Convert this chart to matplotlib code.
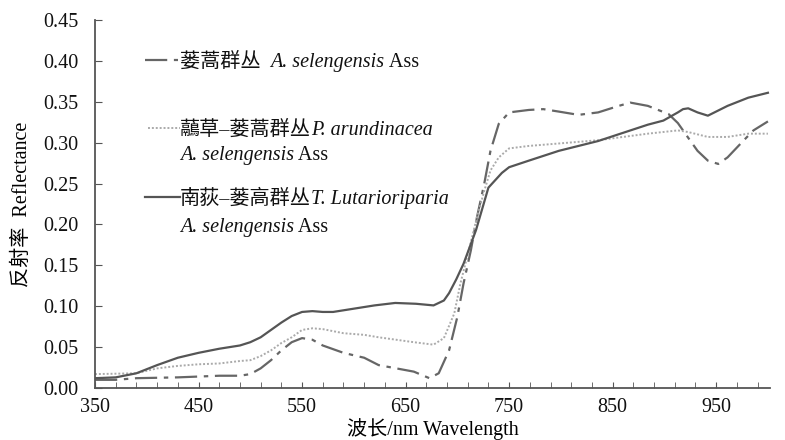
import numpy as np
import matplotlib
matplotlib.use('Agg')
import matplotlib.pyplot as plt
from matplotlib.lines import Line2D

plt.rcParams['font.family'] = ['Liberation Serif', 'Noto Sans CJK SC']
plt.rcParams['font.size'] = 14.5

# wavelength (nm) / reflectance
# 南荻-蒌蒿群丛 (solid)
wl_t = [350, 370, 390, 410, 430, 450, 470, 490, 500, 510, 520, 530, 540, 550, 560, 570,
        580, 600, 620, 640, 660, 677, 687, 692, 699, 706, 718, 730, 743, 750, 769, 798, 836,
        884, 899, 913, 918, 923, 932, 942, 961, 981, 1000]
ref_t = [0.012, 0.013, 0.018, 0.028, 0.037, 0.043, 0.048, 0.052, 0.056, 0.062, 0.071, 0.080,
         0.088, 0.093, 0.094, 0.093, 0.093, 0.097, 0.101, 0.104, 0.103, 0.101, 0.107, 0.116,
         0.133, 0.152, 0.193, 0.245, 0.263, 0.270, 0.278, 0.290, 0.302, 0.322, 0.327, 0.337,
         0.341, 0.342, 0.337, 0.333, 0.345, 0.355, 0.361]

# 虉草-蒌蒿群丛 (dotted)
wl_p = [350, 390, 410, 430, 450, 470, 490, 500, 510, 520, 530, 540, 550, 560, 570, 590,
        610, 624, 658, 677, 687, 697, 703, 711, 719, 726, 732, 740, 750, 769, 798, 836,
        884, 913, 923, 942, 961, 981, 1000]
ref_p = [0.017, 0.018, 0.024, 0.027, 0.029, 0.030, 0.033, 0.034, 0.039, 0.046, 0.055, 0.062,
         0.071, 0.073, 0.072, 0.067, 0.065, 0.062, 0.056, 0.053, 0.061, 0.091, 0.128, 0.168,
         0.209, 0.241, 0.266, 0.282, 0.293, 0.296, 0.299, 0.303, 0.311, 0.315, 0.313, 0.307,
         0.307, 0.311, 0.311]

# 蒌蒿群丛 (dash-dot)
wl_a = [350, 370, 390, 430, 470, 490, 500, 510, 520, 530, 540, 550, 560, 570, 590, 610,
        624, 658, 673, 682, 692, 700, 706, 713, 719, 726, 732, 740, 750, 769, 783, 798,
        817, 836, 856, 867, 884, 904, 913, 923, 932, 942, 952, 961, 976, 986, 1000]
ref_a = [0.010, 0.010, 0.012, 0.013, 0.015, 0.015, 0.017, 0.024, 0.034, 0.046, 0.056, 0.061,
         0.059, 0.052, 0.043, 0.037, 0.028, 0.020, 0.012, 0.018, 0.046, 0.087, 0.128, 0.168,
         0.209, 0.250, 0.290, 0.323, 0.337, 0.340, 0.341, 0.338, 0.334, 0.337, 0.345, 0.349,
         0.345, 0.335, 0.324, 0.306, 0.290, 0.278, 0.274, 0.282, 0.302, 0.315, 0.326]

fig = plt.figure(figsize=(7.85, 4.4), dpi=100)
ax = fig.add_axes([95/785, 1-388/440, 675/785, 368/440])

ax.plot(wl_a, ref_a, color='#666666', lw=1.6, dashes=(10, 3, 2, 3))
ax.plot(wl_p, ref_p, color='#aaaaaa', lw=1.4, linestyle=(0, (1, 1)))
ax.plot(wl_t, ref_t, color='#555555', lw=1.6)

ax.set_xlim(350, 1002)
ax.set_ylim(0, 0.45)
ax.set_xticks(np.arange(350, 951, 100))
ax.set_xticks(np.arange(350, 1001, 20), minor=True)
ax.set_yticks(np.arange(0, 0.451, 0.05))
ax.set_yticklabels(['%.2f' % v for v in np.arange(0, 0.451, 0.05)])
ax.tick_params(axis='both', which='both', direction='in', color='#555555', labelcolor='#111111')
ax.tick_params(axis='x', which='both', length=4, pad=7)
ax.tick_params(axis='y', length=5, pad=12)
for s in ['top', 'right']:
    ax.spines[s].set_visible(False)
for s in ['left', 'bottom']:
    ax.spines[s].set_color('#555555')
    ax.spines[s].set_linewidth(1.3)

ax.set_xlabel('波长/nm Wavelength', labelpad=1)
ax.set_ylabel('反射率  Reflectance', labelpad=8)

# legend drawn by hand (two-line labels, mixed italic)
samples = [((145, 178), 60, dict(color='#666666', lw=1.6, dashes=(10, 3, 2, 3))),
           ((148, 180), 128, dict(color='#aaaaaa', lw=1.4, linestyle=(0, (1, 1)))),
           ((145, 180), 197, dict(color='#555555', lw=1.6))]
for (x0, x1), y, st in samples:
    fig.add_artist(Line2D([x0/785, x1/785], [1-y/440, 1-y/440], transform=fig.transFigure, **st))

legend_lines = [
    (180, 67, [('蒌蒿群丛  ', 'normal'), ('A. selengensis', 'italic'), (' Ass', 'normal')]),
    (180, 135, [('虉草–蒌蒿群丛', 'normal'), ('P. arundinacea', 'italic')]),
    (180, 160, [('A. selengensis', 'italic'), (' Ass', 'normal')]),
    (180, 204, [('南荻–蒌高群丛', 'normal'), ('T. Lutarioriparia', 'italic')]),
    (180, 232, [('A. selengensis', 'italic'), (' Ass', 'normal')]),
]

fig.canvas.draw()
renderer = fig.canvas.get_renderer()
for x, y, parts in legend_lines:
    cx = x
    for txt, style in parts:
        t = fig.text(cx/785, 1-y/440, txt, style=style, va='baseline', ha='left', color='#111111')
        cx = t.get_window_extent(renderer).x1

fig.savefig('out.png', dpi=100)
